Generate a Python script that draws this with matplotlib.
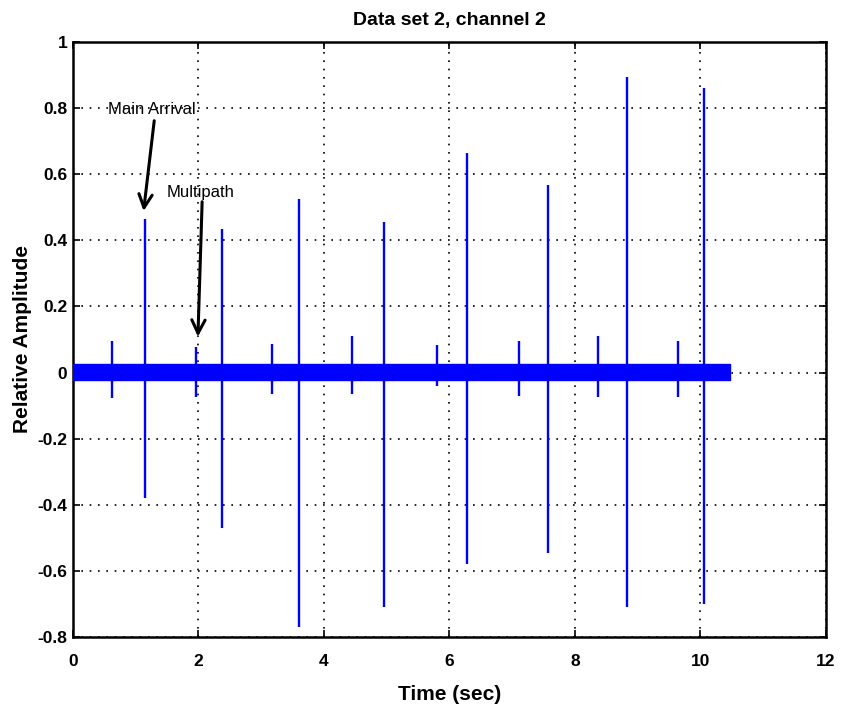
import matplotlib
matplotlib.use('Agg')
import matplotlib.pyplot as plt

plt.rcParams['font.family'] = ['Liberation Sans Narrow', 'Liberation Sans', 'DejaVu Sans']
plt.rcParams['font.weight'] = 'bold'

# main arrivals: time, positive peak, negative peak
main_t = [1.15, 2.37, 3.60, 4.96, 6.28, 7.57, 8.83, 10.06]
main_hi = [0.465, 0.434, 0.525, 0.455, 0.665, 0.567, 0.895, 0.86]
main_lo = [-0.38, -0.47, -0.77, -0.71, -0.58, -0.545, -0.71, -0.70]

# multipath arrivals
multi_t = [0.62, 1.96, 3.17, 4.45, 5.80, 7.11, 8.37, 9.64]
multi_hi = [0.096, 0.077, 0.087, 0.11, 0.083, 0.095, 0.11, 0.095]
multi_lo = [-0.077, -0.073, -0.065, -0.065, -0.04, -0.07, -0.073, -0.073]

# background noise band
noise_t = [0.0, 10.47]
noise_hi = [0.026, 0.026]
noise_lo = [-0.022, -0.022]

blue = '#0000ff'

fig = plt.figure(figsize=(8.42, 7.05), dpi=100)
ax = fig.add_axes([0.0867, 0.0965, 0.894, 0.844])

ax.fill_between(noise_t, noise_lo, noise_hi, color=blue, linewidth=1.0, edgecolor=blue, zorder=3)
ax.vlines(main_t, main_lo, main_hi, color=blue, linewidth=1.7, zorder=3)
ax.vlines(multi_t, multi_lo, multi_hi, color=blue, linewidth=1.7, zorder=3)

ax.set_xlim(0, 12)
ax.set_ylim(-0.8, 1)
ax.set_xticks(range(0, 13, 2))
ax.set_yticks([-0.8, -0.6, -0.4, -0.2, 0, 0.2, 0.4, 0.6, 0.8, 1])
ax.set_yticklabels(['-0.8', '-0.6', '-0.4', '-0.2', '0', '0.2', '0.4', '0.6', '0.8', '1'])
ax.tick_params(direction='in', length=5, width=1.2, top=True, right=True, labelsize=12.5)
ax.tick_params(axis='x', pad=12)
ax.tick_params(axis='y', pad=4)
for s in ax.spines.values():
    s.set_linewidth(1.8)
ax.grid(True, color='black', linestyle=(0, (1, 4)), linewidth=1.2, zorder=1)
ax.set_axisbelow(True)

ax.set_title('Data set 2, channel 2', fontsize=14, fontweight='bold', pad=12)
ax.set_xlabel('Time (sec)', fontsize=15, fontweight='bold', labelpad=12)
ax.set_ylabel('Relative Amplitude', fontsize=15, fontweight='bold', labelpad=4)

arrow = dict(arrowstyle='->', color='black', lw=2.2, mutation_scale=24)
ax.text(1.26, 0.795, 'Main Arrival', ha='center', va='center', fontsize=12, fontweight='normal', zorder=5)
ax.annotate('', xy=(1.12, 0.48), xytext=(1.30, 0.77), arrowprops=arrow, zorder=5)
ax.text(2.03, 0.545, 'Multipath', ha='center', va='center', fontsize=12, fontweight='normal', zorder=5)
ax.annotate('', xy=(1.99, 0.10), xytext=(2.06, 0.525), arrowprops=arrow, zorder=5)

fig.savefig('out.png', dpi=100)
